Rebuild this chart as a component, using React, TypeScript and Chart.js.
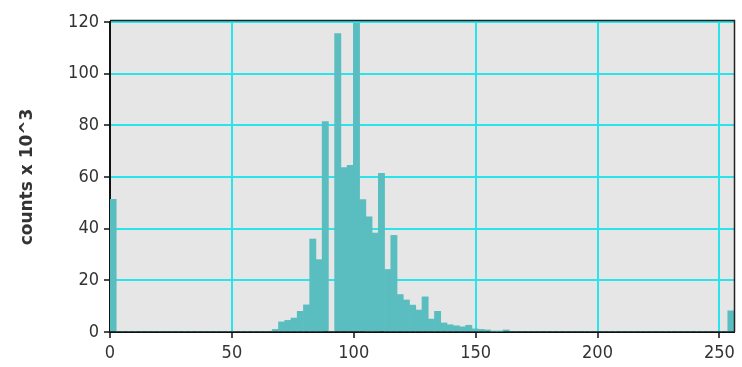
import React, { useEffect, useRef } from "react";
import { Chart, registerables } from "chart.js";

Chart.register(...registerables);

// Histogram of 100 equal bins spanning 0..256
const X_MIN = 0;
const X_MAX = 256;
const BIN_COUNT = 100;

// Bin counts in thousands, bin 0 .. bin 99
const binCounts: number[] = [
  51.4, 0, 0, 0, 0, 0, 0, 0, 0, 0,
  0, 0, 0, 0, 0, 0, 0, 0, 0, 0,
  0, 0, 0, 0, 0, 0, 1, 3.9, 4.5, 5.4,
  8, 10.5, 36, 28, 81.5, 0, 115.5, 63.6, 64.5, 119.5,
  51.3, 44.6, 38.3, 61.4, 24.2, 37.4, 14.5, 12.4, 10.4, 8.5,
  13.6, 5, 8, 3.5, 2.8, 2.4, 2, 2.6, 1.2, 1,
  0.8, 0.3, 0.3, 0.8, 0, 0, 0, 0, 0, 0,
  0, 0, 0, 0, 0, 0, 0, 0, 0, 0,
  0, 0, 0, 0, 0, 0, 0, 0, 0, 0,
  0, 0, 0, 0, 0, 0, 0, 0, 0, 8.2,
];

const xTickStep = 50;
const yTickStep = 20;
const Y_MAX = 120;
const yAxisTitle = "counts x 10^3";

const FONT_FAMILY = "'DejaVu Sans Condensed', 'DejaVu Sans', sans-serif";
const TITLE_FONT_FAMILY = "'DejaVu Sans', sans-serif";
const BAR_COLOR = "#5ABEC0";
const GRID_COLOR = "#2AE4EC";
const PLOT_BG = "#E6E6E6";
const TEXT_COLOR = "#333333";

// Shaded plot area plus the dark frame on its top and right sides
const plotFrame = {
  id: "plotFrame",
  beforeDraw(chart: any) {
    const { ctx, chartArea } = chart;
    const { left, top, right, bottom } = chartArea;
    ctx.save();
    ctx.fillStyle = PLOT_BG;
    ctx.fillRect(left, top - 2, right - left, bottom - top + 2);
    ctx.restore();
  },
  afterDraw(chart: any) {
    const { ctx, chartArea } = chart;
    const { left, top, right, bottom } = chartArea;
    ctx.save();
    ctx.strokeStyle = "#222222";
    ctx.lineWidth = 1.5;
    ctx.beginPath();
    ctx.moveTo(left, top - 1.5);
    ctx.lineTo(right + 0.5, top - 1.5);
    ctx.lineTo(right + 0.5, bottom);
    ctx.stroke();
    ctx.restore();
  },
};

export default function App() {
  const canvasRef = useRef<HTMLCanvasElement | null>(null);

  useEffect(() => {
    const canvas = canvasRef.current;
    if (!canvas) return;

    const binWidth = (X_MAX - X_MIN) / BIN_COUNT;
    const points = binCounts.map((v, i) => ({
      x: X_MIN + binWidth * (i + 0.5),
      y: v,
    }));

    const chart = new Chart(canvas, {
      type: "bar",
      data: {
        datasets: [
          {
            data: points as any,
            backgroundColor: BAR_COLOR,
            borderWidth: 0,
            barPercentage: 1,
            categoryPercentage: 1,
          },
        ],
      },
      options: {
        responsive: false,
        animation: false,
        events: [],
        layout: { padding: { top: 22, right: 8, bottom: 0, left: 0 } },
        plugins: {
          legend: { display: false },
          tooltip: { enabled: false },
        },
        scales: {
          x: {
            type: "linear",
            min: X_MIN,
            max: X_MAX,
            offset: false,
            grid: {
              offset: false,
              color: GRID_COLOR,
              lineWidth: 2,
              tickColor: "#111111",
              tickLength: 6,
              tickWidth: 1.5,
            },
            border: { display: true, color: "#111111", width: 2 },
            ticks: {
              stepSize: xTickStep,
              includeBounds: false,
              maxRotation: 0,
              autoSkip: false,
              color: TEXT_COLOR,
              padding: 5,
              font: { family: FONT_FAMILY, size: 18 },
            },
            afterFit(scale: any) {
              scale.height = 35;
            },
          },
          y: {
            type: "linear",
            min: 0,
            max: Y_MAX,
            grid: {
              color: GRID_COLOR,
              lineWidth: 2,
              tickColor: "#111111",
              tickLength: 6,
              tickWidth: 1.5,
            },
            border: { display: true, color: "#111111", width: 2 },
            ticks: {
              stepSize: yTickStep,
              color: TEXT_COLOR,
              padding: 5,
              font: { family: FONT_FAMILY, size: 18 },
            },
            title: {
              display: true,
              text: yAxisTitle,
              color: TEXT_COLOR,
              padding: { top: 17, bottom: 0 },
              font: { family: TITLE_FONT_FAMILY, size: 17, weight: "bold" },
            },
            afterFit(scale: any) {
              scale.width = 110;
            },
          },
        },
      },
      plugins: [plotFrame],
    });

    return () => {
      chart.destroy();
    };
  }, []);

  return (
    <div style={{ position: "absolute", left: 0, top: 0, width: 742, height: 367, background: "#ffffff" }}>
      <canvas ref={canvasRef} width={742} height={367} style={{ display: "block" }} />
    </div>
  );
}
